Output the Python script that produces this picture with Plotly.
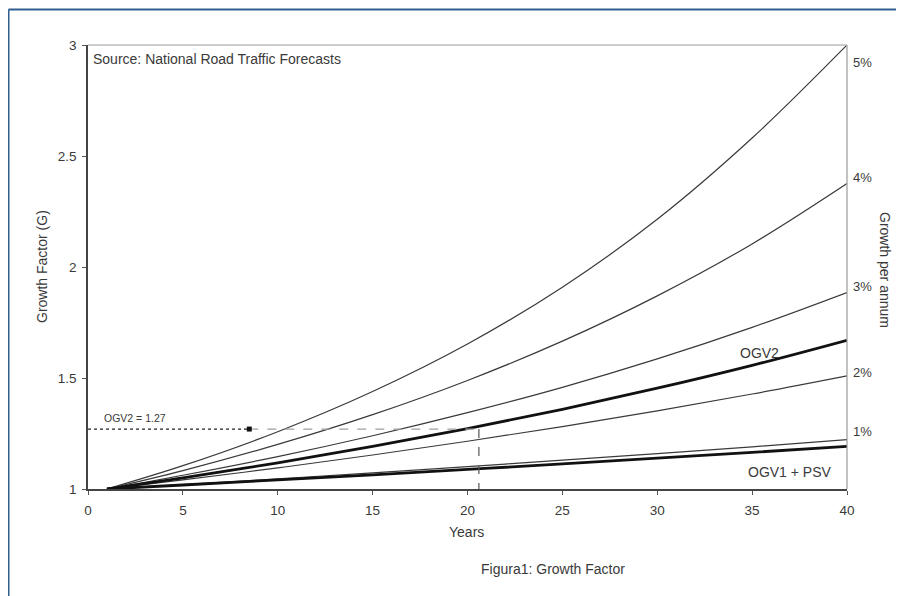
import plotly.graph_objects as go

years = [1, 5, 10, 15, 20, 25, 30, 35, 40]
g5 = [1.0, 1.105, 1.258, 1.439, 1.653, 1.909, 2.215, 2.581, 3.0]
g4 = [1.0, 1.083, 1.201, 1.335, 1.489, 1.666, 1.870, 2.104, 2.376]
g3 = [1.0, 1.062, 1.146, 1.240, 1.344, 1.458, 1.586, 1.728, 1.885]
g2 = [1.0, 1.041, 1.095, 1.153, 1.215, 1.281, 1.352, 1.428, 1.510]
g1 = [1.0, 1.020, 1.046, 1.073, 1.101, 1.130, 1.159, 1.190, 1.222]
ogv2 = [1.0, 1.050, 1.118, 1.192, 1.272, 1.359, 1.454, 1.557, 1.670]
ogv1_psv = [1.0, 1.018, 1.041, 1.064, 1.088, 1.113, 1.139, 1.165, 1.192]

rate_labels = ["5%", "4%", "3%", "2%", "1%"]
rate_label_y = [2.923, 2.405, 1.910, 1.527, 1.261]

ogv2_design_year = 20.6
ogv2_value = 1.27
marker_x = 8.5

FONT = "Liberation Sans, Arial, sans-serif"
TXT = "#3a3a3a"

# page pixel geometry of the plot area (the page body adds an 8px offset)
PL, PR, PT, PB = 88, 847, 45, 489
W, H = PR - PL, PB - PT
OFF = 8


def px(xp):
    return (xp - PL) / W


def py(yp):
    return (PB - yp) / H


fig = go.Figure()
for ser in [g5, g4, g3, g2, g1]:
    fig.add_trace(go.Scatter(x=years, y=ser, mode="lines", line=dict(color="#3a3a3a", width=1.2, shape="spline"),
                             showlegend=False, hoverinfo="skip"))
for ser in [ogv2, ogv1_psv]:
    fig.add_trace(go.Scatter(x=years, y=ser, mode="lines", line=dict(color="#111111", width=2.8, shape="spline"),
                             showlegend=False, hoverinfo="skip"))

# annotation lines for OGV2 = 1.27
fig.add_trace(go.Scatter(x=[0, marker_x], y=[ogv2_value, ogv2_value], mode="lines",
                         line=dict(color="#222222", width=1.2, dash="dot"), showlegend=False, hoverinfo="skip"))
fig.add_trace(go.Scatter(x=[marker_x, ogv2_design_year], y=[ogv2_value, ogv2_value], mode="lines",
                         line=dict(color="#a0a0a0", width=1.2, dash="dash"), showlegend=False, hoverinfo="skip"))
fig.add_trace(go.Scatter(x=[marker_x], y=[ogv2_value], mode="markers",
                         marker=dict(symbol="square", size=5, color="#111111"), showlegend=False, hoverinfo="skip"))
fig.add_trace(go.Scatter(x=[ogv2_design_year, ogv2_design_year], y=[ogv2_value, 0.965], mode="lines",
                         line=dict(color="#555555", width=1.2, dash="dash"), showlegend=False, hoverinfo="skip",
                         cliponaxis=False))

annotations = []
for lab, yv in zip(rate_labels, rate_label_y):
    annotations.append(dict(x=40, y=yv, xref="x", yref="y", text=lab, showarrow=False, xanchor="left",
                            xshift=4, font=dict(family=FONT, size=13, color=TXT)))


def ptext(x, y, text, **kw):
    d = dict(x=px(x), y=py(y), xref="paper", yref="paper", text=text, showarrow=False,
             xanchor="center", yanchor="middle", font=dict(family=FONT, size=14, color=TXT))
    d.update(kw)
    return d


annotations += [
    dict(x=35.4, y=1.613, xref="x", yref="y", text="OGV2", showarrow=False,
         font=dict(family=FONT, size=14, color=TXT)),
    dict(x=37.0, y=1.077, xref="x", yref="y", text="OGV1 + PSV", showarrow=False,
         font=dict(family=FONT, size=14, color=TXT)),
    dict(x=2.5, y=1.32, xref="x", yref="y", text="OGV2 = 1.27", showarrow=False,
         font=dict(family=FONT, size=10.5, color=TXT)),
    ptext(91, 59, "Source: National Road Traffic Forecasts", xanchor="left"),
    ptext(885, 270, "Growth per annum", textangle=90),
    ptext(42, 267, "Growth Factor (G)", textangle=-90),
    ptext(466, 532, "Years"),
    ptext(553, 569, "Figura1: Growth Factor"),
]

shapes = [
    # top and right plot borders
    dict(type="line", xref="paper", yref="paper", x0=0, x1=1, y0=1, y1=1, line=dict(color="#bdbdbd", width=1.5)),
    dict(type="line", xref="paper", yref="paper", x0=1, x1=1, y0=0, y1=1, line=dict(color="#9a9a9a", width=1.2)),
    # blue frame of figure
    dict(type="line", xref="paper", yref="paper", x0=px(8.5), x1=px(920),
         y0=py(9.5), y1=py(9.5), line=dict(color="#2f5f8f", width=2)),
    dict(type="line", xref="paper", yref="paper", x0=px(8.5), x1=px(8.5),
         y0=py(610), y1=py(9.5), line=dict(color="#2f5f8f", width=2)),
]

axis_common = dict(showgrid=False, zeroline=False, showline=True, linecolor="#444444", linewidth=1.5,
                   ticks="outside", ticklen=4, tickcolor="#555555", automargin=False,
                   tickfont=dict(family=FONT, size=13.5, color=TXT))

fig.update_layout(
    width=904, height=596,
    margin=dict(l=PL - OFF, r=904 - PR + OFF, t=PT - OFF, b=596 - PB + OFF),
    paper_bgcolor="white", plot_bgcolor="white",
    showlegend=False,
    annotations=annotations, shapes=shapes,
    font=dict(family=FONT, size=12, color=TXT),
    xaxis=dict(range=[0, 40], tickvals=[0, 5, 10, 15, 20, 25, 30, 35, 40], ticklabelstandoff=4, **axis_common),
    yaxis=dict(range=[1, 3], tickvals=[1, 1.5, 2, 2.5, 3], ticktext=["1", "1.5", "2", "2.5", "3"],
               ticklabelstandoff=3, **axis_common),
)

fig.write_html("out.html")
